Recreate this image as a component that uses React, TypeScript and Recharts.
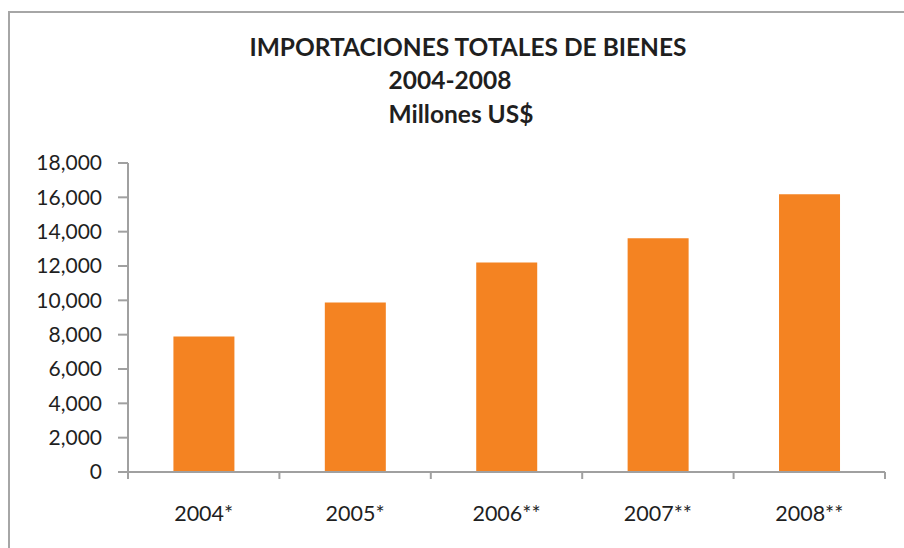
import React from 'react';
import { BarChart, Bar, XAxis, YAxis } from 'recharts';

const categories = ['2004*', '2005*', '2006**', '2007**', '2008**'];
const values = [7900, 9880, 12200, 13610, 16180];
const yTicks = [0, 2000, 4000, 6000, 8000, 10000, 12000, 14000, 16000, 18000];
const titleLines = ['IMPORTACIONES TOTALES DE BIENES', '2004-2008', 'Millones US$'];

const data = categories.map((c, i) => ({ name: c, value: values[i] }));

const AXIS = '#A0A0A0';
const TEXT = '#1f1f1f';
const FONT = 'Lato, "Open Sans", sans-serif';

const XTick = (props: any) => {
  const { x, y, payload, index } = props;
  const half = payload && payload.offset ? payload.offset : 757 / categories.length / 2;
  return (
    <g>
      <line x1={x - half} y1={y} x2={x - half} y2={y + 7} stroke={AXIS} strokeWidth={2} />
      {index === categories.length - 1 && (
        <line x1={x + half} y1={y} x2={x + half} y2={y + 7} stroke={AXIS} strokeWidth={2} />
      )}
      <text x={x} y={y + 41} textAnchor="middle" dominantBaseline="central" fill={TEXT} fontSize={21.5} fontFamily={FONT}>
        {payload.value}
      </text>
    </g>
  );
};

export default function App() {
  const titleX = [468, 450, 461];
  const titleY = [46, 79, 113];
  return (
    <div style={{ position: 'absolute', left: 0, top: 0, width: 904, height: 548, overflow: 'hidden', background: '#fff' }}>
      <div style={{ position: 'absolute', left: 8, top: 11, width: 1000, height: 1000, border: '2px solid #A6A6A6', boxSizing: 'border-box' }} />
      <div style={{ position: 'absolute', left: 0, top: 0 }}>
        <BarChart
          width={904}
          height={548}
          data={data}
          margin={{ top: 163, right: 19, bottom: 36, left: 0 }}
          barCategoryGap="30%"
        >
          <XAxis
            dataKey="name"
            height={40}
            axisLine={{ stroke: AXIS, strokeWidth: 2 }}
            tickLine={false}
            tickSize={0}
            tickMargin={0}
            tick={<XTick />}
            interval={0}
          />
          <YAxis
            width={128}
            domain={[0, 18000]}
            ticks={yTicks}
            interval={0}
            axisLine={{ stroke: AXIS, strokeWidth: 2 }}
            tickLine={{ stroke: AXIS, strokeWidth: 2 }}
            tickSize={10}
            tickMargin={16}
            tick={{ fill: TEXT, fontSize: 21, fontFamily: FONT }}
            tickFormatter={(v: number) => v.toLocaleString('en-US')}
          />
          <Bar dataKey="value" fill="#F48322" isAnimationActive={false} />
        </BarChart>
      </div>
      <svg width={904} height={548} style={{ position: 'absolute', left: 0, top: 0, pointerEvents: 'none' }}>
        {titleLines.map((t, i) => (
          <text key={t} x={titleX[i]} y={titleY[i]} textAnchor="middle" dominantBaseline="central" fill={TEXT} fontSize={24.5} fontWeight="bold" fontFamily={FONT}>
            {t}
          </text>
        ))}
      </svg>
    </div>
  );
}
